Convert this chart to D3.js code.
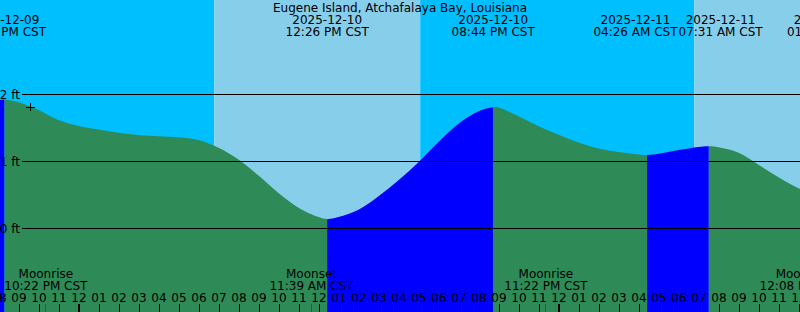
<!DOCTYPE html>
<html>
<head>
<meta charset="utf-8">
<script src="https://cdn.jsdelivr.net/npm/d3@7"></script>
<style>
  body { margin: 0; background: #fff; }
  svg { display: block; font-family: "DejaVu Sans", sans-serif; font-size: 12px; }
</style>
</head>
<body>
<div id="chart"></div>
<script>
// hours are counted from 2025-12-10 00:00 CST
const title = "Eugene Island, Atchafalaya Bay, Louisiana";

const tideHours = [-4, -3.7, -3, -2, -1, 0, 1, 2, 3, 4, 5, 6, 7, 8, 9, 10, 11, 12, 12.433,
  13, 14, 15, 16, 17, 18, 19, 20, 20.733, 21, 22, 23, 24, 25, 26, 27, 28, 28.433,
  29, 30, 31, 31.517, 32, 33, 34, 35, 36, 37, 37.5];
const tideFeet = [1.915, 1.92, 1.885, 1.77, 1.62, 1.53, 1.478, 1.43, 1.395, 1.378, 1.362, 1.322, 1.205, 1.03, 0.79, 0.53, 0.31, 0.17, 0.14,
  0.17, 0.28, 0.48, 0.72, 0.99, 1.29, 1.565, 1.75, 1.81, 1.805, 1.675, 1.525, 1.40, 1.285, 1.195, 1.14, 1.105, 1.097,
  1.115, 1.17, 1.218, 1.228, 1.212, 1.13, 0.95, 0.765, 0.60, 0.49, 0.47];

const eventHours = [-3.7, 12.433, 20.733, 28.433, 31.517, 37.5];
const eventRising = [true, false, true, false, true, false]; // true = high tide (flood before it)
const eventDates = ["2025-12-09", "2025-12-10", "2025-12-10", "2025-12-11", "2025-12-11", "2025-12-11"];
const eventTimes = ["08:18 PM CST", "12:26 PM CST", "08:44 PM CST", "04:26 AM CST", "07:31 AM CST", "01:30 PM CST"];

const sunHours = [6.785, 17.085, 30.785]; // sunrise, sunset, sunrise

const moonHours = [-1.633, 11.65, 23.367, 36.133];
const moonNames = ["Moonrise", "Moonset", "Moonrise", "Moonset"];
const moonTimes = ["10:22 PM CST", "11:39 AM CST", "11:22 PM CST", "12:08 PM CST"];

const levelTicks = [0, 1, 2];
const markHour = -2.425, markFeet = 1.806;

const width = 800, height = 312;
const dayColor = "#87CEEB", nightColor = "#00BFFF";
const floodColor = "#0000FF", ebbColor = "#2E8B57";

var svg = d3.select("#chart").append("svg")
    .attr("width", width)
    .attr("height", height);

var x = d3.scaleLinear([-3.925, 36.075], [0, width]);
var y = d3.scaleLinear([0, 2], [228.5, 94.5]);

// day / night background
var edges = [x.domain()[0]].concat(sunHours, [x.domain()[1]]);
svg.selectAll("rect.sky")
    .data(d3.pairs(edges))
    .join("rect")
    .attr("class", "sky")
    .attr("x", d => x(d[0]))
    .attr("y", 0)
    .attr("width", d => x(d[1]) - x(d[0]))
    .attr("height", height)
    .attr("fill", (d, i) => i % 2 === 0 ? nightColor : dayColor);

// tide area, coloured per rising / falling stretch
var tide = tideHours.map((h, i) => ({ hour: h, feet: tideFeet[i] }));
var area = d3.area()
    .x(d => x(d.hour))
    .y0(height)
    .y1(d => y(d.feet))
    .curve(d3.curveCatmullRom.alpha(0.5));

var tideEdges = [-10].concat(eventHours, [50]);
var stretches = d3.pairs(tideEdges).map((p, i) => ({
    from: p[0], to: p[1],
    rising: i < eventRising.length ? eventRising[i] : !eventRising[eventRising.length - 1]
}));

var defs = svg.append("defs");
stretches.forEach((s, i) => {
    defs.append("clipPath").attr("id", "stretch" + i)
      .append("rect")
        .attr("x", x(s.from))
        .attr("y", 0)
        .attr("width", x(s.to) - x(s.from))
        .attr("height", height);
    svg.append("path")
        .datum(tide)
        .attr("clip-path", `url(#stretch${i})`)
        .attr("fill", s.rising ? floodColor : ebbColor)
        .attr("d", area);
});

// level lines
svg.selectAll("line.level")
    .data(levelTicks)
    .join("line")
    .attr("class", "level")
    .attr("x1", 22).attr("x2", width)
    .attr("y1", d => y(d)).attr("y2", d => y(d))
    .attr("stroke", "#000")
    .attr("shape-rendering", "crispEdges");
svg.selectAll("text.level")
    .data(levelTicks)
    .join("text")
    .attr("class", "level")
    .attr("x", 20)
    .attr("y", d => y(d) + 4.5)
    .attr("text-anchor", "end")
    .text(d => d + " ft");

// mark
svg.append("path")
    .attr("d", `M${x(markHour) - 4.5},${y(markFeet)}h9M${x(markHour)},${y(markFeet) - 4}v8`)
    .attr("stroke", "#000")
    .attr("shape-rendering", "crispEdges");

// title and tide event labels
svg.append("text")
    .attr("x", width / 2).attr("y", 12)
    .attr("text-anchor", "middle")
    .text(title);

var probe = svg.append("text").text(eventTimes[1]);
var labelW = probe.node().getComputedTextLength();
probe.remove();
var centers = eventHours.map(h => x(h));
for (let i = 0; i < centers.length - 1; i++) {
    let gap = centers[i + 1] - centers[i];
    if (gap < labelW + 2) {
        let push = (labelW + 2 - gap) / 2;
        centers[i] -= push;
        centers[i + 1] += push;
    }
}
var events = svg.selectAll("g.event")
    .data(eventHours)
    .join("g")
    .attr("class", "event")
    .attr("text-anchor", "middle");
events.append("text")
    .attr("x", (d, i) => centers[i]).attr("y", 24)
    .text((d, i) => eventDates[i]);
events.append("text")
    .attr("x", (d, i) => centers[i]).attr("y", 36)
    .text((d, i) => eventTimes[i]);

// moon labels
var moons = svg.selectAll("g.moon")
    .data(moonHours)
    .join("g")
    .attr("class", "moon")
    .attr("text-anchor", "middle");
moons.append("text")
    .attr("x", d => x(d)).attr("y", 278)
    .text((d, i) => moonNames[i]);
moons.append("text")
    .attr("x", d => x(d)).attr("y", 290)
    .text((d, i) => moonTimes[i]);

// hour axis
var hours = d3.range(-4, 37).filter(h => x(h) >= -10 && x(h) <= width + 10);
var axis = svg.append("g")
    .attr("transform", `translate(0,${height})`)
    .call(d3.axisTop(x)
        .tickValues(hours)
        .tickSize(8)
        .tickPadding(2)
        .tickFormat(h => {
            let hh = ((h % 12) + 12) % 12;
            return d3.format("02")(hh === 0 ? 12 : hh);
        }));
axis.select(".domain").remove();
axis.attr("font-family", null).attr("font-size", null);
axis.selectAll(".tick text").attr("fill", "#000");
axis.selectAll(".tick line")
    .attr("stroke", "#000")
    .attr("shape-rendering", "crispEdges")
    .attr("stroke-width", d => d % 24 === 0 ? 2 : 1);

svg.selectAll("line.moontick")
    .data(moonHours)
    .join("line")
    .attr("class", "moontick")
    .attr("x1", d => x(d)).attr("x2", d => x(d))
    .attr("y1", height - 8).attr("y2", height)
    .attr("stroke", "red")
    .attr("shape-rendering", "crispEdges");
</script>
</body>
</html>
